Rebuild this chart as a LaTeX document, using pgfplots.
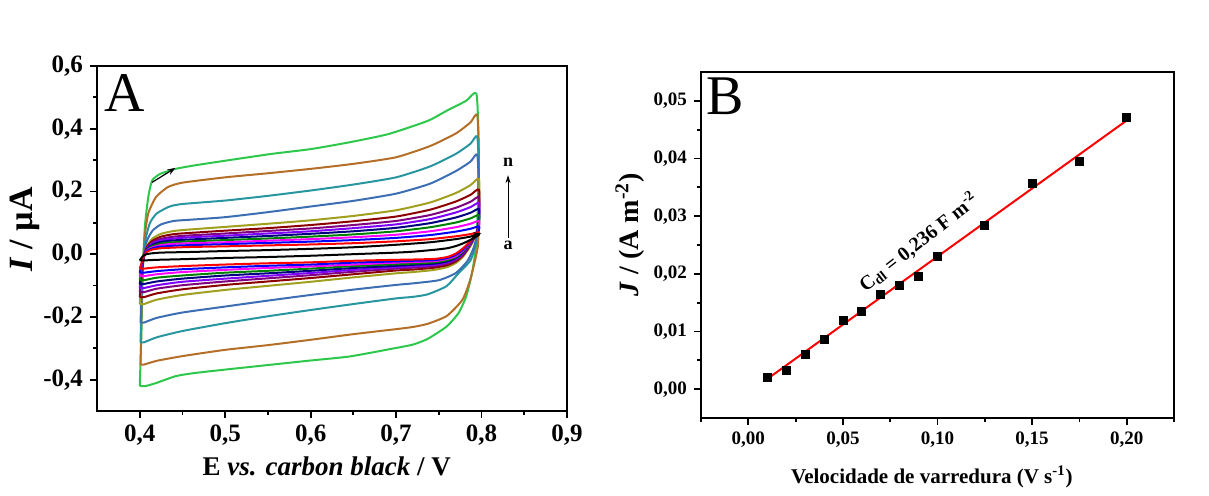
\documentclass[border=0pt]{standalone}
\usepackage{fontspec}
\setmainfont{Liberation Serif}
\usepackage{pgfplots}
\usepackage{pgfplotstable}
\pgfplotsset{compat=1.18}
\usetikzlibrary{arrows.meta}

\definecolor{cN}{RGB}{45,200,75}
\definecolor{cM}{RGB}{180,110,40}
\definecolor{cL}{RGB}{40,150,160}
\definecolor{cK}{RGB}{60,110,180}
\definecolor{cJ}{RGB}{160,160,30}
\definecolor{cI}{RGB}{140,0,0}
\definecolor{cH}{RGB}{128,0,128}
\definecolor{cG}{RGB}{128,0,255}
\definecolor{cF}{RGB}{0,0,128}
\definecolor{cE}{RGB}{0,128,0}
\definecolor{cD}{RGB}{255,0,255}
\definecolor{cC}{RGB}{0,0,255}
\definecolor{cB}{RGB}{255,0,0}
\definecolor{cA}{RGB}{0,0,0}

\pgfplotstableread{
x      a      b      c      d      e      f      g      h      i      j
0.400 -0.020 -0.046 -0.059 -0.070 -0.083 -0.095 -0.108 -0.121 -0.137 -0.159
0.402 -0.012 -0.030 -0.035 -0.040 -0.050 -0.055 -0.060 -0.070 -0.080 -0.090
0.404 -0.005 -0.012 -0.013 -0.014 -0.015 -0.016 -0.017 -0.018 -0.020 -0.020
0.408  0.000  0.007  0.009  0.011  0.013  0.015  0.017  0.019  0.022  0.025
0.415  0.003  0.015  0.019  0.022  0.026  0.030  0.034  0.038  0.043  0.050
0.425  0.005  0.019  0.024  0.029  0.034  0.039  0.044  0.049  0.056  0.065
0.440  0.006  0.021  0.027  0.033  0.038  0.044  0.050  0.056  0.064  0.074
0.460  0.007  0.023  0.029  0.035  0.041  0.047  0.054  0.060  0.068  0.079
0.500  0.010  0.025  0.032  0.038  0.045  0.052  0.059  0.066  0.075  0.087
0.550  0.013  0.028  0.036  0.043  0.050  0.058  0.066  0.074  0.083  0.097
0.600  0.017  0.031  0.040  0.048  0.056  0.065  0.073  0.082  0.093  0.108
0.650  0.022  0.035  0.045  0.054  0.063  0.073  0.083  0.093  0.105  0.122
0.700  0.030  0.041  0.052  0.062  0.073  0.084  0.095  0.106  0.120  0.140
0.740  0.038  0.048  0.061  0.073  0.086  0.099  0.112  0.125  0.142  0.165
0.770  0.048  0.057  0.072  0.086  0.101  0.117  0.133  0.148  0.168  0.195
0.787  0.056  0.064  0.081  0.097  0.114  0.132  0.150  0.167  0.189  0.220
0.797  0.064  0.070  0.089  0.106  0.125  0.144  0.163  0.182  0.206  0.240
0.797  0.062  0.066  0.078  0.085  0.095  0.100  0.110  0.120  0.130  0.150
0.795  0.058  0.058  0.060  0.062  0.065  0.068  0.070  0.070  0.075  0.080
0.790  0.050  0.050  0.050  0.050  0.050  0.050  0.048  0.045  0.045  0.040
0.785  0.043  0.036  0.034  0.032  0.030  0.029  0.026  0.023  0.021  0.017
0.778  0.034  0.018  0.014  0.011  0.008  0.005  0.002 -0.002 -0.005 -0.009
0.770  0.026  0.002 -0.002 -0.006 -0.009 -0.012 -0.015 -0.019 -0.023 -0.028
0.760  0.019 -0.009 -0.012 -0.015 -0.019 -0.023 -0.026 -0.030 -0.035 -0.041
0.745  0.014 -0.015 -0.019 -0.022 -0.026 -0.030 -0.034 -0.038 -0.043 -0.050
0.720  0.008 -0.017 -0.021 -0.025 -0.030 -0.034 -0.039 -0.043 -0.049 -0.057
0.700  0.005 -0.018 -0.023 -0.027 -0.032 -0.037 -0.041 -0.046 -0.052 -0.061
0.650  0.000 -0.021 -0.027 -0.033 -0.038 -0.044 -0.050 -0.056 -0.064 -0.074
0.600 -0.005 -0.026 -0.033 -0.039 -0.046 -0.053 -0.060 -0.067 -0.076 -0.088
0.550 -0.009 -0.029 -0.037 -0.044 -0.053 -0.061 -0.069 -0.077 -0.087 -0.101
0.500 -0.012 -0.033 -0.042 -0.050 -0.059 -0.068 -0.078 -0.087 -0.098 -0.114
0.450 -0.016 -0.038 -0.048 -0.057 -0.068 -0.078 -0.088 -0.099 -0.112 -0.130
0.420 -0.018 -0.042 -0.054 -0.064 -0.075 -0.087 -0.099 -0.110 -0.125 -0.145
0.405 -0.020 -0.046 -0.059 -0.070 -0.083 -0.095 -0.108 -0.121 -0.137 -0.159
0.400 -0.020 -0.046 -0.059 -0.070 -0.083 -0.095 -0.108 -0.121 -0.137 -0.159
}\cvbunch

\pgfplotstableread{
v      J
0.010  0.0020
0.020  0.0033
0.030  0.0061
0.040  0.0087
0.050  0.0120
0.060  0.0135
0.070  0.0164
0.080  0.0180
0.090  0.0196
0.100  0.0230
0.125  0.0284
0.150  0.0356
0.175  0.0395
0.200  0.0472
}\capdata

\pgfplotsset{
  originstyle/.style={
    scale only axis,
    axis line style={line width=1.1pt},
    tick align=outside,
    xtick pos=bottom, ytick pos=left,
    major tick length=3.5pt, minor tick length=2pt,
    tick style={line width=0.9pt, black},
    scaled x ticks=false, scaled y ticks=false,
  },
}

\begin{document}
\begin{tikzpicture}
\useasboundingbox (0,0) rectangle (604.5pt,248pt);

% ---------------- Panel A ----------------
\begin{axis}[
  originstyle,
  at={(48.5pt,42.5pt)}, anchor=south west,
  width=235pt, height=172.5pt,
  xmin=0.35, xmax=0.9, ymin=-0.5, ymax=0.6,
  xtick={0.4,0.5,0.6,0.7,0.8,0.9},
  xticklabels={{0,4},{0,5},{0,6},{0,7},{0,8},{0,9}},
  minor xtick={0.45,0.55,0.65,0.75,0.85},
  ytick={-0.4,-0.2,0,0.2,0.4,0.6},
  yticklabels={{-0,4},{-0,2},{0,0},{0,2},{0,4},{0,6}},
  minor ytick={-0.3,-0.1,0.1,0.3,0.5},
  ticklabel style={font=\bfseries\fontsize{12.5}{14}\selectfont},
  xlabel={E \textit{vs. carbon black} / V},
  xlabel style={at={(axis description cs:0.489,-0.159)}, anchor=center, font=\bfseries\fontsize{13.5}{16}\selectfont},
  ylabel={\textit{I} / µA},
  ylabel style={at={(axis description cs:-0.153,0.526)}, anchor=center, font=\bfseries\fontsize{17}{20}\selectfont},
  every axis plot/.append style={line width=1pt, line join=round, smooth, tension=0.35},
]
% n
\addplot[cN] coordinates {(0.400,-0.420) (0.402,-0.250) (0.4035,-0.060) (0.406,0.087) (0.410,0.182) (0.4145,0.235) (0.424,0.256) (0.442,0.272) (0.464,0.283) (0.500,0.298) (0.555,0.320) (0.600,0.335) (0.646,0.357) (0.691,0.383) (0.737,0.425) (0.759,0.457) (0.782,0.489) (0.794,0.512) (0.7965,0.360) (0.7956,0.150) (0.7934,0.023) (0.7888,-0.061) (0.782,-0.135) (0.773,-0.188) (0.759,-0.231) (0.737,-0.270) (0.720,-0.288) (0.700,-0.299) (0.646,-0.326) (0.600,-0.339) (0.555,-0.352) (0.500,-0.368) (0.464,-0.379) (0.442,-0.389) (0.419,-0.411) (0.406,-0.421) (0.400,-0.420)};
% m
\addplot[cM] coordinates {(0.401,-0.352) (0.402,-0.200) (0.4035,-0.050) (0.406,0.060) (0.410,0.130) (0.419,0.182) (0.433,0.214) (0.450,0.228) (0.500,0.245) (0.550,0.258) (0.600,0.272) (0.650,0.288) (0.700,0.309) (0.740,0.345) (0.770,0.385) (0.787,0.420) (0.795,0.444) (0.797,0.300) (0.7965,0.120) (0.7956,0.023) (0.7866,-0.083) (0.7775,-0.146) (0.7593,-0.197) (0.737,-0.222) (0.720,-0.232) (0.700,-0.239) (0.650,-0.255) (0.600,-0.273) (0.550,-0.290) (0.500,-0.305) (0.450,-0.325) (0.420,-0.340) (0.405,-0.352) (0.401,-0.352)};
% l
\addplot[cL] coordinates {(0.401,-0.281) (0.402,-0.150) (0.404,-0.020) (0.407,0.050) (0.412,0.100) (0.420,0.130) (0.435,0.152) (0.450,0.160) (0.500,0.171) (0.550,0.186) (0.600,0.203) (0.650,0.222) (0.700,0.245) (0.740,0.280) (0.770,0.320) (0.787,0.352) (0.795,0.375) (0.797,0.250) (0.796,0.100) (0.793,0.030) (0.787,-0.020) (0.773,-0.061) (0.759,-0.102) (0.737,-0.128) (0.720,-0.136) (0.700,-0.141) (0.650,-0.159) (0.600,-0.178) (0.550,-0.198) (0.500,-0.220) (0.450,-0.245) (0.420,-0.265) (0.405,-0.281) (0.401,-0.281)};
% k
\addplot[cK] coordinates {(0.401,-0.218) (0.402,-0.120) (0.404,-0.020) (0.408,0.040) (0.415,0.075) (0.425,0.095) (0.440,0.106) (0.460,0.110) (0.500,0.118) (0.550,0.134) (0.600,0.152) (0.650,0.170) (0.700,0.193) (0.740,0.225) (0.770,0.265) (0.787,0.295) (0.795,0.317) (0.797,0.200) (0.796,0.090) (0.792,0.030) (0.784,-0.020) (0.770,-0.060) (0.750,-0.083) (0.720,-0.093) (0.700,-0.098) (0.650,-0.113) (0.600,-0.130) (0.550,-0.148) (0.500,-0.167) (0.450,-0.186) (0.420,-0.203) (0.405,-0.218) (0.401,-0.218)};
% j .. a
\addplot[cJ] table[x=x,y=j] {\cvbunch};
\addplot[cI] table[x=x,y=i] {\cvbunch};
\addplot[cH] table[x=x,y=h] {\cvbunch};
\addplot[cG] table[x=x,y=g] {\cvbunch};
\addplot[cF] table[x=x,y=f] {\cvbunch};
\addplot[cE] table[x=x,y=e] {\cvbunch};
\addplot[cD] table[x=x,y=d] {\cvbunch};
\addplot[cC] table[x=x,y=c] {\cvbunch};
\addplot[cB] table[x=x,y=b] {\cvbunch};
\addplot[cA] table[x=x,y=a] {\cvbunch};

\node[font=\fontsize{28}{30}\selectfont] at (axis cs:0.382,0.515) {A};
\draw[-{Stealth[length=4pt,width=3pt]}, line width=0.6pt] (axis cs:0.4145,0.229) -- (axis cs:0.4417,0.275);
\draw[-{Stealth[length=4pt,width=3pt]}, line width=0.8pt] (axis cs:0.790,0.060) -- (axis cs:0.800,0.066);
\draw[-{Stealth[length=4pt,width=2.5pt]}, line width=0.5pt] (axis cs:0.831,0.052) -- (axis cs:0.831,0.252);
\node[font=\bfseries\fontsize{9}{10}\selectfont] at (axis cs:0.831,0.292) {n};
\node[font=\bfseries\fontsize{9}{10}\selectfont] at (axis cs:0.831,0.027) {a};
\end{axis}

% ---------------- Panel B ----------------
\begin{axis}[
  originstyle,
  at={(350.5pt,39pt)}, anchor=south west,
  width=236.5pt, height=173pt,
  xmin=-0.025, xmax=0.225, ymin=-0.005, ymax=0.055,
  xtick={0,0.05,0.1,0.15,0.2},
  xticklabels={{0,00},{0,05},{0,10},{0,15},{0,20}},
  minor xtick={-0.025,0.025,0.075,0.125,0.175,0.225},
  ytick={0,0.01,0.02,0.03,0.04,0.05},
  yticklabels={{0,00},{0,01},{0,02},{0,03},{0,04},{0,05}},
  minor ytick={0.005,0.015,0.025,0.035,0.045},
  ticklabel style={font=\bfseries\fontsize{9.5}{11}\selectfont},
  xlabel={Velocidade de varredura (V s\textsuperscript{-1})},
  xlabel style={at={(axis description cs:0.488,-0.171)}, anchor=center, font=\bfseries\fontsize{10.5}{12}\selectfont},
  ylabel={\textit{J} / (A m\textsuperscript{-2})},
  ylabel style={at={(axis description cs:-0.15,0.53)}, anchor=center, font=\bfseries\fontsize{14}{16}\selectfont},
]
\addplot[red, line width=1pt] coordinates {(0.01,0.00176) (0.20,0.0466)};
\addplot[only marks, mark=square*, mark size=2pt, black] table[x=v,y=J] {\capdata};
\node[rotate=38, font=\bfseries\fontsize{10}{12}\selectfont] at (axis cs:0.090,0.0255) {C\textsubscript{dl} = 0,236 F m\textsuperscript{-2}};
\node[font=\fontsize{28}{30}\selectfont] at (axis cs:-0.012,0.0508) {B};
\end{axis}
\end{tikzpicture}
\end{document}
